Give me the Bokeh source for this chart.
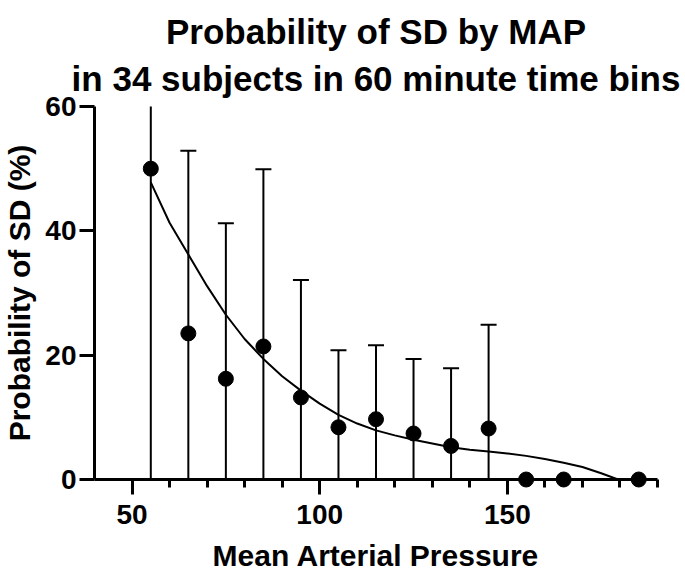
from bokeh.plotting import figure
from bokeh.models import Range1d, FixedTicker, Title
from bokeh.embed import file_html
from bokeh.resources import INLINE

# Data
map_bins = [55, 65, 75, 85, 95, 105, 115, 125, 135, 145, 155, 165, 185]
prob_sd = [50.0, 23.5, 16.2, 21.4, 13.2, 8.4, 9.7, 7.4, 5.4, 8.2, 0.0, 0.0, 0.0]
err_upper = [64.0, 52.9, 41.2, 49.9, 32.1, 20.8, 21.6, 19.4, 17.9, 24.9, None, None, None]

fit_x = [55, 60, 65, 70, 75, 80, 85, 90, 95, 100, 105, 110, 115, 120, 125,
         130, 135, 140, 145, 150, 155, 160, 165, 170, 175, 179.5]
fit_y = [47.8, 41.3, 36.2, 31.1, 26.5, 22.6, 19.4, 16.6, 14.3, 12.2, 10.4, 9.0, 7.9,
         7.1, 6.4, 5.8, 5.2, 4.8, 4.5, 4.2, 3.8, 3.3, 2.7, 2.0, 1.0, 0.0]

x_major = [50, 100, 150]
x_minor = [60, 70, 80, 90, 110, 120, 130, 140, 160, 170, 180, 190]
y_major = [0, 20, 40, 60]

title_lines = ["Probability of SD by MAP", "in 34 subjects in 60 minute time bins"]

FONT = "Liberation Sans"

p = figure(width=685, height=574, output_backend="svg", toolbar_location=None,
           x_range=Range1d(40, 190), y_range=Range1d(0, 60),
           min_border_left=94, min_border_right=28, min_border_top=106,
           min_border_bottom=95, title=None)

title = Title(text="\n".join(title_lines), align="center",
              text_font=FONT, text_font_size="35px", text_font_style="bold",
              text_color="black", text_line_height=1.2, offset=0, standoff=17)
if "text_align" in Title.properties():
    title.text_align = "center"
p.add_layout(title, "above")

p.grid.visible = False
p.outline_line_color = None
p.background_fill_color = "white"
p.border_fill_color = "white"

for ax in (p.xaxis[0], p.yaxis[0]):
    ax.axis_line_width = 3
    ax.axis_line_color = "black"
    ax.major_tick_line_width = 3
    ax.minor_tick_line_width = 3
    ax.major_tick_line_color = "black"
    ax.minor_tick_line_color = "black"
    ax.major_tick_out = 15
    ax.major_tick_in = 0
    ax.minor_tick_out = 8
    ax.minor_tick_in = 0
    ax.major_label_text_font = FONT
    ax.major_label_text_font_style = "bold"
    ax.major_label_text_font_size = "28px"
    ax.major_label_text_color = "black"
    ax.axis_label_text_font = FONT
    ax.axis_label_text_font_style = "bold"
    ax.axis_label_text_font_size = "30px"
    ax.axis_label_text_color = "black"

p.xaxis.ticker = FixedTicker(ticks=x_major, minor_ticks=x_minor)
p.yaxis.ticker = FixedTicker(ticks=y_major, minor_ticks=[])
p.xaxis.axis_label = "Mean Arterial Pressure"
p.yaxis.axis_label = "Probability of SD (%)"
p.xaxis.major_label_standoff = 10
p.xaxis.axis_label_standoff = 12
p.xaxis.major_label_text_line_height = 0.8
p.xaxis.axis_label_text_line_height = 0.8
p.yaxis.major_label_standoff = 3
p.yaxis.axis_label_standoff = 6

# error bars (upper only, drawn from the axis)
ex = [x for x, u in zip(map_bins, err_upper) if u is not None]
eu = [u for u in err_upper if u is not None]
p.segment(x0=ex, y0=[0] * len(ex), x1=ex, y1=eu, line_color="black", line_width=2)
p.scatter(x=ex, y=eu, marker="dash", size=16, line_color="black", line_width=2)

# fitted curve
p.line(fit_x, fit_y, line_color="black", line_width=2)

# points
p.scatter(map_bins, prob_sd, size=15, fill_color="black", line_color="black",
          level="overlay")

open("out.html", "w").write(file_html(p, INLINE))
